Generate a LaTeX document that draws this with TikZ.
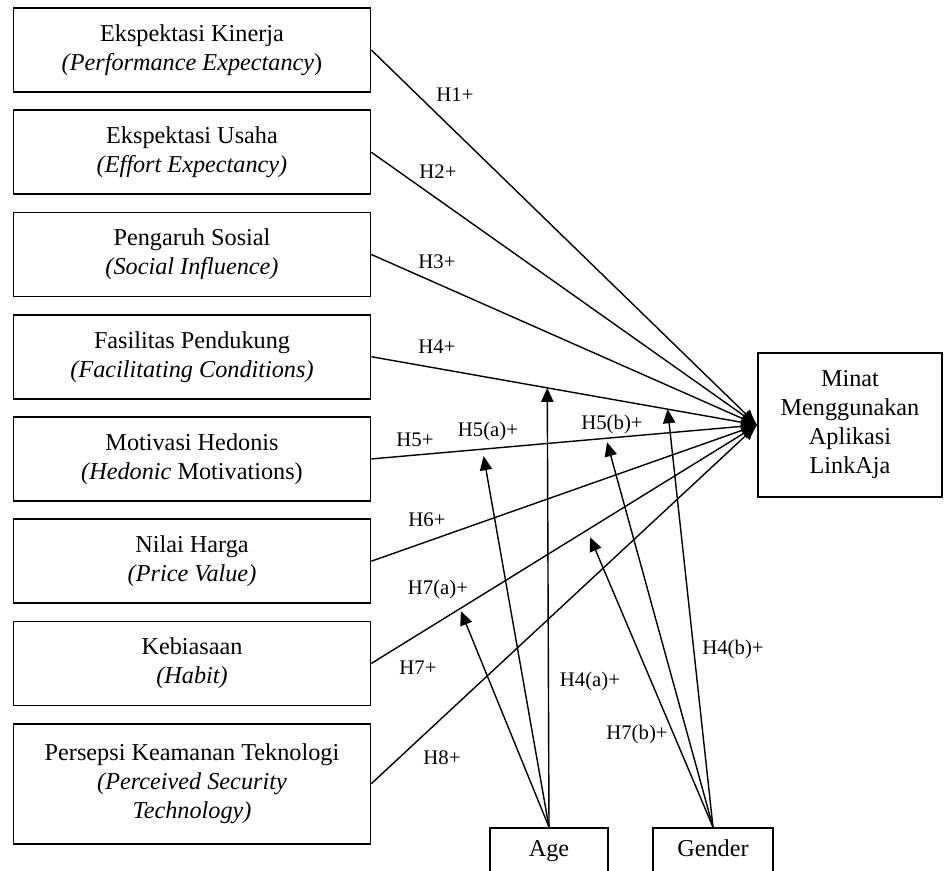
\documentclass[tikz,border=0pt]{standalone}
\usepackage{fontspec}
\setmainfont{Liberation Serif}
\usetikzlibrary{positioning,arrows.meta}

\begin{document}
\begin{tikzpicture}[x=0.02cm, y=-0.02cm]
	\tikzstyle{varbox} = [rectangle, draw, line width=1pt, minimum width=7.14cm, minimum height=1.68cm, align=center, font=\fontsize{13.8}{16.5}\selectfont]
	\tikzstyle{hyp} = [font=\fontsize{11.8}{14}\selectfont, inner sep=0pt]
	\tikzstyle{link} = [line width=0.8pt, -{Latex[length=9pt,width=7pt]}]
	\tikzstyle{modarrow} = [line width=0.8pt, -{Triangle[length=8pt,width=7pt]}]
	\clip (0,0) rectangle (944,870);
	
	\node[varbox] (PE) at (192, 50) {Ekspektasi Kinerja\\\textit{(Performance Expectancy})};
	\node[varbox, below=0.33cm of PE] (EE) {Ekspektasi Usaha\\\textit{(Effort Expectancy)}};
	\node[varbox, below=0.33cm of EE] (SI) {Pengaruh Sosial\\\textit{(Social Influence)}};
	\node[varbox, below=0.33cm of SI] (FC) {Fasilitas Pendukung\\\textit{(Facilitating Conditions)}};
	\node[varbox, below=0.33cm of FC] (HM) {Motivasi Hedonis\\\textit{(Hedonic} Motivations)};
	\node[varbox, below=0.33cm of HM] (PV) {Nilai Harga\\\textit{(Price Value)}};
	\node[varbox, below=0.33cm of PV] (HB) {Kebiasaan\\\textit{(Habit)}};
	\node[varbox, below=0.33cm of HB, minimum height=2.4cm] (PST) {Persepsi Keamanan Teknologi\\\textit{(Perceived Security}\\\textit{Technology)}};
	
	\node[varbox, minimum width=3.68cm, minimum height=2.88cm] (BI) at (850, 425) {Minat\\Menggunakan\\Aplikasi\\LinkAja};
	
	\node[varbox, minimum width=2.36cm, minimum height=0.96cm, text height=1.6ex, text depth=0.4ex] (Age) at (549, 852) {Age};
	\node[varbox, minimum width=2.4cm, minimum height=0.96cm, text height=1.6ex, text depth=0.4ex] (Gender) at (713, 852) {Gender};
	
	\draw[link] (PE.east) -- (BI.west);
	\draw[link] (EE.east) -- (BI.west);
	\draw[link] (SI.east) -- (BI.west);
	\draw[link] (FC.east) -- (BI.west)
	coordinate[pos=0.456] (fcA)
	coordinate[pos=0.768] (fcG);
	\draw[link] (HM.east) -- (BI.west)
	coordinate[pos=0.291, yshift=-0.14cm] (hmA)
	coordinate[pos=0.611, yshift=-0.08cm] (hmG);
	\draw[link] (PV.east) -- (BI.west);
	\draw[link] (HB.east) -- (BI.west)
	coordinate[pos=0.232, yshift=-0.06cm] (hbA)
	coordinate[pos=0.567, yshift=-0.18cm] (hbG);
	\draw[link] (PST.east) -- (BI.west);
	
	\node[hyp] (h1) at (455, 95) {H1+};
	\node[hyp] (h2) at (438, 172) {H2+};
	\node[hyp] (h3) at (437, 262) {H3+};
	\node[hyp] (h4) at (437, 347) {H4+};
	\node[hyp] (h5) at (415, 440) {H5+};
	\node[hyp] (h5a) at (488, 432) {H5(a)+};
	\node[hyp] (h5b) at (612, 425) {H5(b)+};
	\node[hyp] (h6) at (427, 520) {H6+};
	\node[hyp] (h7a) at (438, 590) {H7(a)+};
	\node[hyp] (h7) at (418, 668) {H7+};
	\node[hyp] (h8) at (442, 758) {H8+};
	\node[hyp] (h4a) at (590, 682) {H4(a)+};
	\node[hyp] (h4b) at (733, 650) {H4(b)+};
	\node[hyp] (h7b) at (637, 735) {H7(b)+};
	
	\draw[modarrow] (Age.north) -- (fcA);
	\draw[modarrow] (Age.north) -- (hmA);
	\draw[modarrow] (Age.north) -- (hbA);
	\draw[modarrow] (Gender.north) -- (fcG);
	\draw[modarrow] (Gender.north) -- (hmG);
	\draw[modarrow] (Gender.north) -- (hbG);
	
\end{tikzpicture}
\end{document}
